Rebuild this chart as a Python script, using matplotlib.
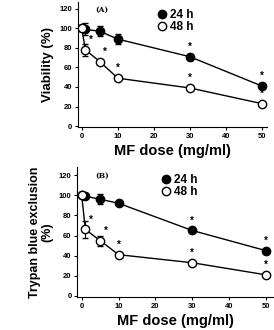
import matplotlib.pyplot as plt
from matplotlib.lines import Line2D

dose = [0, 1, 5, 10, 30, 50]

# panel A: viability
via_24 = [100, 99, 97, 89, 71, 41]
via_24_err = [2, 6, 5, 5, 3, 2]
via_48 = [100, 78, 66, 49, 39, 23]
via_48_err = [2, 6, 2, 2, 2, 2]

# panel B: trypan blue exclusion
tb_24 = [100, 99, 96, 92, 65, 45]
tb_24_err = [2, 2, 5, 2, 2, 2]
tb_48 = [100, 66, 55, 41, 33, 21]
tb_48_err = [2, 8, 5, 2, 2, 2]

# doses marked with * (significant)
sig_24 = [30, 50]
sig_48 = [1, 5, 10, 30, 50]

yticks = [0, 20, 40, 60, 80, 100, 120]
xticks = [0, 10, 20, 30, 40, 50]

plt.rcParams['font.family'] = ['Liberation Sans', 'DejaVu Sans']

fig = plt.figure(figsize=(2.74, 3.30), dpi=100)


def draw_panel(ax, y24, e24, y48, e48, tag, ylabel, ylabel_size, xlim, ylim):
    ax.errorbar(dose, y24, yerr=e24, color='black', marker='o', markersize=6,
                markerfacecolor='black', lw=1, capsize=2, elinewidth=0.8,
                zorder=3)
    ax.errorbar(dose, y48, yerr=e48, color='black', marker='o', markersize=6,
                markerfacecolor='white', lw=1, capsize=2, elinewidth=0.8,
                zorder=3)
    for d in sig_24:
        ax.text(d, y24[dose.index(d)] + 5, '*', ha='center', va='bottom',
                fontsize=7, fontweight='bold')
    for d in sig_48:
        ax.text(d + (1.5 if d < 10 else 0), y48[dose.index(d)] + 5, '*',
                ha='center', va='bottom', fontsize=7, fontweight='bold')
    ax.text(5.6, 119, tag, family='serif', fontsize=5.5, fontweight='bold',
            ha='center', va='center')
    ax.set_xlim(*xlim)
    ax.set_ylim(*ylim)
    ax.set_xticks(xticks)
    ax.set_yticks(yticks)
    ax.spines['top'].set_visible(False)
    ax.spines['right'].set_visible(False)
    ax.tick_params(labelsize=5.5, length=2, width=0.8, pad=2)
    for lab in ax.get_xticklabels() + ax.get_yticklabels():
        lab.set_fontweight('bold')
    ax.set_xlabel('MF dose (mg/ml)', fontsize=10.5, fontweight='bold', labelpad=3)
    ax.set_ylabel(ylabel, fontsize=ylabel_size, fontweight='bold', labelpad=4,
                  linespacing=1.0)
    handles = [
        Line2D([], [], color='black', marker='o', markersize=6,
               markerfacecolor='black', linestyle='none'),
        Line2D([], [], color='black', marker='o', markersize=6,
               markerfacecolor='white', linestyle='none'),
    ]
    leg = ax.legend(handles, ['24 h', '48 h'], loc='upper right',
                    bbox_to_anchor=(0.67, 1.03), frameon=False,
                    fontsize=8.5, handlelength=0.6, handletextpad=0.4,
                    labelspacing=0.05)
    for t in leg.get_texts():
        t.set_fontweight('bold')


ax1 = fig.add_axes([0.284, 0.615, 0.690, 0.379])
draw_panel(ax1, via_24, via_24_err, via_48, via_48_err, '(A)', 'Viability (%)',
           9.5, (-1.1, 51.4), (-1, 127))

ax2 = fig.add_axes([0.282, 0.100, 0.714, 0.394])
draw_panel(ax2, tb_24, tb_24_err, tb_48, tb_48_err, '(B)',
           'Trypan blue exclusion\n(%)', 9, (-1.2, 51.9), (-1, 128))

fig.savefig('out.png', dpi=100)
